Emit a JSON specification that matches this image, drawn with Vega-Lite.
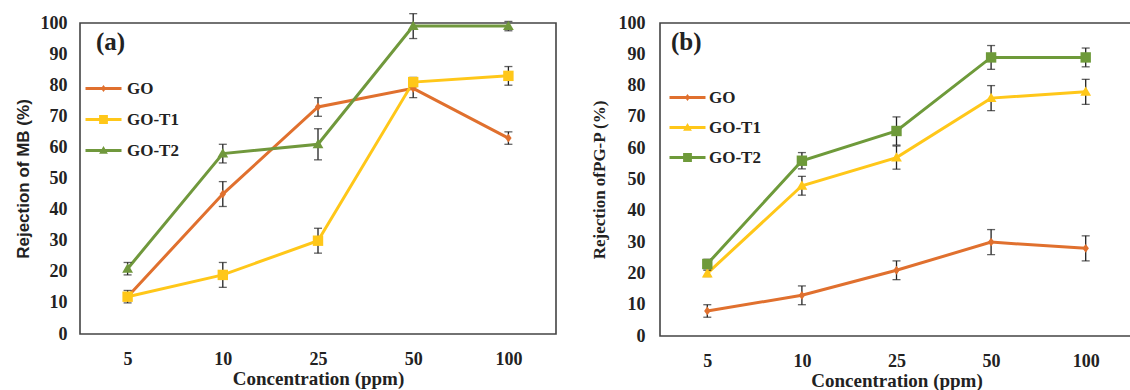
{
  "$schema": "https://vega.github.io/schema/vega-lite/v6.json",
  "padding": {"left": 13, "top": 12, "right": 0, "bottom": 0},
  "background": "white",
  "config": {
    "view": {"stroke": "#444", "strokeWidth": 1.6},
    "axis": {"grid": false, "ticks": false, "domain": false, "labelFont": "Liberation Serif", "labelFontWeight": "bold", "labelFontSize": 18, "labelColor": "#222", "titleColor": "#222", "titleFontWeight": "bold"},
    "title": {"font": "Liberation Serif", "fontWeight": "bold", "fontSize": 25, "color": "#222", "anchor": "start", "frame": "group", "baseline": "alphabetic", "offset": 0},
    "legend": {"labelFont": "Liberation Serif", "labelFontWeight": "bold", "labelFontSize": 17, "labelColor": "#222"}
  },
  "datasets": {
    "a": [
      {"conc": 5, "series": "GO", "rej": 12, "err": 2},
      {"conc": 10, "series": "GO", "rej": 45, "err": 4},
      {"conc": 25, "series": "GO", "rej": 73, "err": 3},
      {"conc": 50, "series": "GO", "rej": 79, "err": 3},
      {"conc": 100, "series": "GO", "rej": 63, "err": 2},
      {"conc": 5, "series": "GO-T1", "rej": 12, "err": 1},
      {"conc": 10, "series": "GO-T1", "rej": 19, "err": 4},
      {"conc": 25, "series": "GO-T1", "rej": 30, "err": 4},
      {"conc": 50, "series": "GO-T1", "rej": 81, "err": 1.5},
      {"conc": 100, "series": "GO-T1", "rej": 83, "err": 3},
      {"conc": 5, "series": "GO-T2", "rej": 21, "err": 2},
      {"conc": 10, "series": "GO-T2", "rej": 58, "err": 3},
      {"conc": 25, "series": "GO-T2", "rej": 61, "err": 5},
      {"conc": 50, "series": "GO-T2", "rej": 99, "err": 4},
      {"conc": 100, "series": "GO-T2", "rej": 99, "err": 1.5}
    ],
    "b": [
      {"conc": 5, "series": "GO", "rej": 8, "err": 2},
      {"conc": 10, "series": "GO", "rej": 13, "err": 3},
      {"conc": 25, "series": "GO", "rej": 21, "err": 3},
      {"conc": 50, "series": "GO", "rej": 30, "err": 4},
      {"conc": 100, "series": "GO", "rej": 28, "err": 4},
      {"conc": 5, "series": "GO-T1", "rej": 20, "err": 1},
      {"conc": 10, "series": "GO-T1", "rej": 48, "err": 3},
      {"conc": 25, "series": "GO-T1", "rej": 57, "err": 3.7},
      {"conc": 50, "series": "GO-T1", "rej": 76, "err": 4},
      {"conc": 100, "series": "GO-T1", "rej": 78, "err": 4},
      {"conc": 5, "series": "GO-T2", "rej": 23, "err": 1.5},
      {"conc": 10, "series": "GO-T2", "rej": 56, "err": 2.6},
      {"conc": 25, "series": "GO-T2", "rej": 65.5, "err": 4.5},
      {"conc": 50, "series": "GO-T2", "rej": 89, "err": 3.8},
      {"conc": 100, "series": "GO-T2", "rej": 89, "err": 3}
    ]
  },
  "spacing": 32,
  "resolve": {"scale": {"x": "independent", "y": "independent", "color": "independent", "shape": "independent"}, "legend": {"shape": "independent", "color": "independent"}},
  "hconcat": [
    {
      "width": 476,
      "height": 311,
      "data": {"name": "a"},
      "title": {"text": "(a)", "dx": 16, "dy": 46},
      "encoding": {
        "x": {"field": "conc", "type": "ordinal", "scale": {"type": "point", "padding": 0.5},
          "axis": {"labelAngle": 0, "labelPadding": 16, "title": "Concentration (ppm)", "titleFont": "Liberation Serif", "titleFontSize": 19, "titlePadding": 1}},
        "y": {"field": "rej", "type": "quantitative", "scale": {"domain": [0, 100], "nice": false},
          "axis": {"values": [0, 10, 20, 30, 40, 50, 60, 70, 80, 90, 100], "labelPadding": 13, "title": "Rejection of MB (%)", "titleFont": "Liberation Sans", "titleFontSize": 17, "titlePadding": 8}}
      },
      "layer": [
        {
          "mark": {"type": "line", "strokeWidth": 3},
          "encoding": {"color": {"field": "series", "type": "nominal", "scale": {"domain": ["GO", "GO-T1", "GO-T2"], "range": ["#E0702E", "#FFC719", "#70983C"]}, "legend": null}}
        },
        {
          "mark": {"type": "errorbar", "color": "#222", "thickness": 1.3, "ticks": {"size": 8, "thickness": 1.3, "color": "#222"}},
          "encoding": {"y": {"field": "rej", "type": "quantitative"}, "yError": {"field": "err"}, "detail": {"field": "series"}}
        },
        {
          "mark": {"type": "point", "filled": true, "opacity": 1, "size": 64},
          "encoding": {
            "color": {"field": "series", "type": "nominal", "scale": {"domain": ["GO", "GO-T1", "GO-T2"], "range": ["#E0702E", "#FFC719", "#70983C"]}, "legend": null},
            "shape": {"field": "series", "type": "nominal", "scale": {"domain": ["GO", "GO-T1", "GO-T2"], "range": ["M0,-1.1L0.8,0L0,1.1L-0.8,0Z", "M-1.3,-1.3L1.3,-1.3L1.3,1.3L-1.3,1.3Z", "M0,-1.35L1.35,1L-1.35,1Z"]}, "legend": null}
          }
        },
        {
          "transform": [{"filter": "false"}],
          "mark": {"type": "point", "filled": true, "opacity": 1},
          "encoding": {
            "color": {"field": "series", "type": "nominal", "scale": {"domain": ["GO", "GO-T1", "GO-T2"], "range": ["#E0702E", "#FFC719", "#70983C"]},
              "legend": {"title": null, "orient": "none", "legendX": 15, "legendY": 57, "padding": 0, "symbolSize": 64, "symbolStrokeWidth": 0, "symbolOpacity": 1, "labelOffset": 15, "rowPadding": 13}},
            "shape": {"field": "series", "type": "nominal", "scale": {"domain": ["GO", "GO-T1", "GO-T2"], "range": ["M-4.5,-0.4L4.5,-0.4L4.5,0.4L-4.5,0.4Z M0,-0.9L0.65,0L0,0.9L-0.65,0Z", "M-4.5,-0.4L4.5,-0.4L4.5,0.4L-4.5,0.4Z M-1.1,-1.1L1.1,-1.1L1.1,1.1L-1.1,1.1Z", "M-4.5,-0.4L4.5,-0.4L4.5,0.4L-4.5,0.4Z M0,-1.1L1.1,0.8L-1.1,0.8Z"]},
              "legend": {"title": null, "orient": "none", "legendX": 15, "legendY": 57, "padding": 0, "symbolSize": 64, "symbolStrokeWidth": 0, "symbolOpacity": 1, "labelOffset": 15, "rowPadding": 13}}
          }
        }
      ],
      "resolve": {"scale": {"shape": "independent", "color": "independent"}, "legend": {"shape": "independent", "color": "independent"}}
    },
    {
      "width": 473,
      "height": 313,
      "data": {"name": "b"},
      "title": {"text": "(b)", "dx": 11, "dy": 45},
      "encoding": {
        "x": {"field": "conc", "type": "ordinal", "scale": {"type": "point", "padding": 0.5},
          "axis": {"labelAngle": 0, "labelPadding": 16, "title": "Concentration (ppm)", "titleFont": "Liberation Serif", "titleFontSize": 19, "titlePadding": 1}},
        "y": {"field": "rej", "type": "quantitative", "scale": {"domain": [0, 100], "nice": false},
          "axis": {"values": [0, 10, 20, 30, 40, 50, 60, 70, 80, 90, 100], "labelPadding": 15, "title": "Rejection ofPG-P (%)", "titleFont": "Liberation Serif", "titleFontSize": 17, "titlePadding": 10}}
      },
      "layer": [
        {
          "mark": {"type": "line", "strokeWidth": 3},
          "encoding": {"color": {"field": "series", "type": "nominal", "scale": {"domain": ["GO", "GO-T1", "GO-T2"], "range": ["#E0702E", "#FFC719", "#6E9A3A"]}, "legend": null}}
        },
        {
          "mark": {"type": "errorbar", "color": "#222", "thickness": 1.3, "ticks": {"size": 8, "thickness": 1.3, "color": "#222"}},
          "encoding": {"y": {"field": "rej", "type": "quantitative"}, "yError": {"field": "err"}, "detail": {"field": "series"}}
        },
        {
          "mark": {"type": "point", "filled": true, "opacity": 1, "size": 64},
          "encoding": {
            "color": {"field": "series", "type": "nominal", "scale": {"domain": ["GO", "GO-T1", "GO-T2"], "range": ["#E0702E", "#FFC719", "#6E9A3A"]}, "legend": null},
            "shape": {"field": "series", "type": "nominal", "scale": {"domain": ["GO", "GO-T1", "GO-T2"], "range": ["M0,-1.1L0.8,0L0,1.1L-0.8,0Z", "M0,-1.35L1.35,1L-1.35,1Z", "M-1.3,-1.3L1.3,-1.3L1.3,1.3L-1.3,1.3Z"]}, "legend": null}
          }
        },
        {
          "transform": [{"filter": "false"}],
          "mark": {"type": "point", "filled": true, "opacity": 1},
          "encoding": {
            "color": {"field": "series", "type": "nominal", "scale": {"domain": ["GO", "GO-T1", "GO-T2"], "range": ["#E0702E", "#FFC719", "#6E9A3A"]},
              "legend": {"title": null, "orient": "none", "legendX": 19, "legendY": 66, "padding": 0, "symbolSize": 64, "symbolStrokeWidth": 0, "symbolOpacity": 1, "labelOffset": 13, "rowPadding": 12}},
            "shape": {"field": "series", "type": "nominal", "scale": {"domain": ["GO", "GO-T1", "GO-T2"], "range": ["M-4.5,-0.4L4.5,-0.4L4.5,0.4L-4.5,0.4Z M0,-0.9L0.65,0L0,0.9L-0.65,0Z", "M-4.5,-0.4L4.5,-0.4L4.5,0.4L-4.5,0.4Z M0,-1.1L1.1,0.8L-1.1,0.8Z", "M-4.5,-0.4L4.5,-0.4L4.5,0.4L-4.5,0.4Z M-1.1,-1.1L1.1,-1.1L1.1,1.1L-1.1,1.1Z"]},
              "legend": {"title": null, "orient": "none", "legendX": 19, "legendY": 66, "padding": 0, "symbolSize": 64, "symbolStrokeWidth": 0, "symbolOpacity": 1, "labelOffset": 13, "rowPadding": 12}}
          }
        }
      ],
      "resolve": {"scale": {"shape": "independent", "color": "independent"}, "legend": {"shape": "independent", "color": "independent"}}
    }
  ]
}
